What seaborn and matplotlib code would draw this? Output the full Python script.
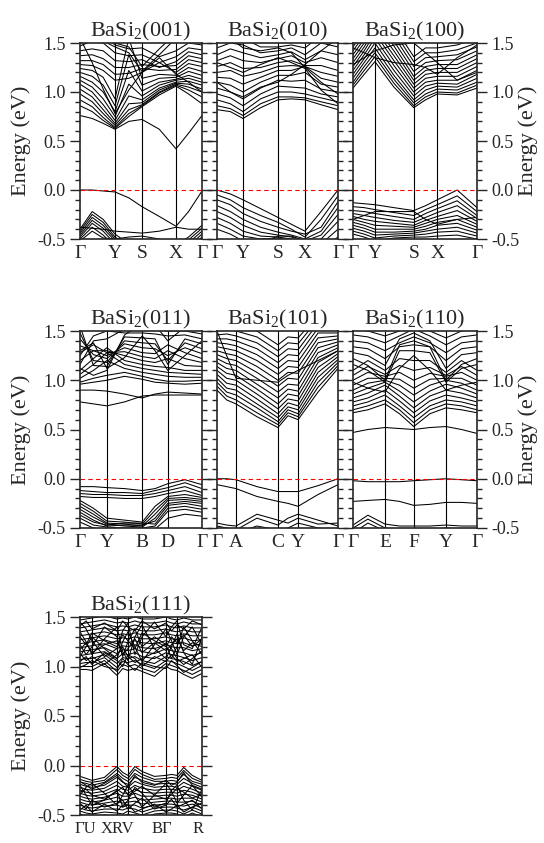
import pandas as pd
import seaborn as sns
import matplotlib.pyplot as plt
from matplotlib.ticker import MultipleLocator, FormatStrFormatter

# ---- BaSi2(001) ----
K_001 = [0, 0.10, 0.19, 0.287, 0.40, 0.508, 0.65, 0.787, 0.89, 1.0]
LINES_001 = [0, 0.287, 0.508, 0.787, 1.0]
LABELS_001 = ['Γ', 'Y', 'S', 'X', 'Γ']
BANDS_001 = [
    [0.00, 0.00, -0.01, -0.02, -0.08, -0.17, -0.27, -0.37, -0.22, -0.01],
    [-0.38, -0.39, -0.40, -0.42, -0.43, -0.44, -0.42, -0.38, -0.40, -0.40],
    [-0.40, -0.22, -0.30, -0.45, -0.55, -0.60, -0.60, -0.56, -0.48, -0.36],
    [-0.42, -0.25, -0.33, -0.48, -0.57, -0.62, -0.62, -0.58, -0.51, -0.39],
    [-0.44, -0.28, -0.36, -0.50, -0.59, -0.64, -0.64, -0.60, -0.54, -0.42],
    [-0.46, -0.31, -0.39, -0.52, -0.61, -0.66, -0.66, -0.62, -0.57, -0.45],
    [-0.48, -0.34, -0.42, -0.55, -0.63, -0.68, -0.68, -0.64, -0.60, -0.48],
    [-0.50, -0.38, -0.46, -0.58, -0.65, -0.70, -0.70, -0.66, -0.62, -0.50],
    [-0.52, -0.42, -0.49, -0.50, -0.48, -0.47, -0.50, -0.55, -0.58, -0.53],
    [0.76, 0.73, 0.68, 0.62, 0.70, 0.72, 0.62, 0.42, 0.58, 0.76],
    [0.86, 0.80, 0.71, 0.63, 0.75, 0.85, 0.97, 1.06, 0.98, 0.88],
    [0.92, 0.85, 0.74, 0.64, 0.78, 0.86, 0.99, 1.07, 1.02, 0.95],
    [0.98, 0.90, 0.78, 0.66, 0.82, 0.87, 1.00, 1.08, 1.05, 1.00],
    [1.03, 0.95, 0.82, 0.68, 0.88, 0.89, 1.02, 1.09, 1.08, 1.03],
    [1.08, 1.00, 0.87, 0.71, 0.96, 0.92, 1.04, 1.10, 1.11, 1.07],
    [1.12, 1.05, 0.93, 0.75, 1.08, 0.96, 1.07, 1.12, 1.14, 1.10],
    [1.16, 1.10, 1.00, 0.80, 1.22, 1.01, 1.10, 1.13, 1.17, 1.13],
    [1.20, 1.16, 1.07, 0.86, 1.38, 1.07, 1.14, 1.15, 1.21, 1.17],
    [1.24, 1.22, 1.15, 0.93, 1.55, 1.14, 1.18, 1.17, 1.25, 1.21],
    [1.28, 1.27, 1.22, 1.12, 1.14, 1.20, 1.30, 1.20, 1.29, 1.26],
    [1.32, 1.32, 1.28, 1.18, 1.19, 1.24, 1.22, 1.23, 1.33, 1.30],
    [1.37, 1.38, 1.34, 1.25, 1.25, 1.28, 1.26, 1.27, 1.37, 1.34],
    [1.42, 1.44, 1.42, 1.32, 1.31, 1.33, 1.25, 1.31, 1.41, 1.38],
    [1.47, 1.52, 1.50, 1.40, 1.37, 1.38, 1.30, 1.36, 1.45, 1.43],
    [1.55, 1.60, 1.58, 1.48, 1.44, 1.45, 1.36, 1.42, 1.50, 1.48],
    [1.55, 1.30, 1.03, 0.78, 1.02, 1.20, 1.35, 1.18, 1.10, 1.00],
    [1.60, 1.56, 1.52, 1.46, 1.40, 1.21, 1.38, 1.55, 1.60, 1.62],
    [1.65, 1.60, 1.56, 1.50, 1.46, 1.26, 1.44, 1.60, 1.65, 1.66],
]

# ---- BaSi2(010) ----
K_010 = [0, 0.11, 0.215, 0.36, 0.504, 0.615, 0.727, 0.86, 1.0]
LINES_010 = [0, 0.215, 0.504, 0.727, 1.0]
LABELS_010 = ['Γ', 'Y', 'S', 'X', 'Γ']
BANDS_010 = [
    [0.00, -0.04, -0.10, -0.19, -0.28, -0.35, -0.42, -0.22, 0.00],
    [-0.05, -0.10, -0.18, -0.26, -0.33, -0.40, -0.48, -0.30, -0.06],
    [-0.10, -0.15, -0.24, -0.32, -0.38, -0.42, -0.45, -0.38, -0.12],
    [-0.16, -0.22, -0.30, -0.38, -0.43, -0.46, -0.50, -0.42, -0.18],
    [-0.22, -0.28, -0.36, -0.43, -0.46, -0.48, -0.52, -0.46, -0.25],
    [-0.28, -0.34, -0.42, -0.47, -0.48, -0.50, -0.55, -0.50, -0.32],
    [-0.34, -0.40, -0.47, -0.50, -0.49, -0.52, -0.58, -0.55, -0.40],
    [-0.40, -0.45, -0.52, -0.54, -0.47, -0.47, -0.52, -0.60, -0.48],
    [0.82, 0.80, 0.73, 0.84, 0.92, 0.93, 0.92, 0.87, 0.82],
    [0.86, 0.83, 0.76, 0.88, 0.95, 0.95, 0.94, 0.90, 0.86],
    [0.92, 0.88, 0.80, 0.93, 1.00, 1.00, 0.98, 0.94, 0.90],
    [0.98, 0.94, 0.86, 0.98, 1.06, 1.05, 1.04, 0.98, 0.95],
    [1.04, 1.00, 0.93, 1.04, 1.12, 1.11, 1.12, 1.03, 1.00],
    [1.10, 1.07, 1.00, 1.10, 1.17, 1.17, 1.20, 1.08, 1.05],
    [1.15, 1.14, 1.08, 1.15, 1.22, 1.22, 1.26, 1.14, 1.10],
    [1.20, 1.22, 1.16, 1.20, 1.26, 1.27, 1.26, 1.20, 1.16],
    [1.26, 1.30, 1.24, 1.25, 1.30, 1.32, 1.27, 1.27, 1.22],
    [1.32, 1.37, 1.32, 1.30, 1.34, 1.37, 1.30, 1.35, 1.30],
    [1.38, 1.44, 1.40, 1.35, 1.38, 1.41, 1.33, 1.42, 1.38],
    [1.45, 1.50, 1.48, 1.40, 1.42, 1.45, 1.38, 1.50, 1.46],
    [1.52, 1.56, 1.55, 1.46, 1.46, 1.48, 1.45, 1.58, 1.54],
    [1.10, 1.00, 0.95, 1.05, 1.10, 1.18, 1.28, 1.42, 1.55],
    [1.60, 1.55, 1.45, 1.42, 1.45, 1.40, 1.25, 1.10, 0.98],
    [1.30, 1.25, 1.20, 1.28, 1.35, 1.30, 1.24, 1.02, 0.88],
]

# ---- BaSi2(100) ----
K_100 = [0, 0.09, 0.177, 0.33, 0.49, 0.585, 0.68, 0.84, 1.0]
LINES_100 = [0, 0.177, 0.49, 0.68, 1.0]
LABELS_100 = ['Γ', 'Y', 'S', 'X', 'Γ']
BANDS_100 = [
    [-0.13, -0.14, -0.15, -0.18, -0.21, -0.16, -0.10, 0.00, -0.18],
    [-0.17, -0.18, -0.20, -0.23, -0.26, -0.20, -0.15, -0.06, -0.22],
    [-0.21, -0.22, -0.24, -0.27, -0.30, -0.24, -0.19, -0.11, -0.26],
    [-0.24, -0.26, -0.28, -0.31, -0.33, -0.28, -0.23, -0.16, -0.29],
    [-0.27, -0.30, -0.32, -0.34, -0.36, -0.31, -0.27, -0.21, -0.32],
    [-0.30, -0.33, -0.36, -0.37, -0.38, -0.34, -0.30, -0.26, -0.35],
    [-0.33, -0.36, -0.40, -0.40, -0.40, -0.37, -0.33, -0.30, -0.38],
    [-0.36, -0.39, -0.43, -0.43, -0.42, -0.40, -0.36, -0.34, -0.41],
    [-0.39, -0.42, -0.46, -0.45, -0.44, -0.42, -0.40, -0.38, -0.44],
    [-0.42, -0.45, -0.49, -0.47, -0.46, -0.45, -0.43, -0.42, -0.47],
    [-0.45, -0.48, -0.52, -0.49, -0.48, -0.48, -0.47, -0.46, -0.50],
    [-0.30, -0.26, -0.22, -0.22, -0.22, -0.30, -0.35, -0.30, -0.28],
    [1.04, 1.18, 1.31, 1.05, 0.84, 0.92, 0.98, 0.97, 1.04],
    [1.07, 1.22, 1.36, 1.09, 0.86, 0.95, 1.00, 0.99, 1.07],
    [1.10, 1.26, 1.40, 1.13, 0.89, 0.98, 1.03, 1.02, 1.10],
    [1.14, 1.30, 1.45, 1.17, 0.92, 1.02, 1.06, 1.05, 1.14],
    [1.18, 1.34, 1.50, 1.22, 0.96, 1.06, 1.09, 1.08, 1.18],
    [1.22, 1.38, 1.55, 1.27, 1.00, 1.10, 1.12, 1.12, 1.22],
    [1.26, 1.42, 1.60, 1.32, 1.04, 1.14, 1.16, 1.16, 1.26],
    [1.30, 1.46, 1.64, 1.37, 1.08, 1.18, 1.20, 1.20, 1.30],
    [1.34, 1.50, 1.68, 1.42, 1.12, 1.22, 1.24, 1.24, 1.34],
    [1.38, 1.54, 1.72, 1.47, 1.16, 1.26, 1.28, 1.28, 1.38],
    [1.42, 1.58, 1.76, 1.52, 1.21, 1.30, 1.32, 1.33, 1.42],
    [1.46, 1.62, 1.80, 1.57, 1.26, 1.35, 1.36, 1.38, 1.46],
    [1.50, 1.66, 1.84, 1.62, 1.31, 1.40, 1.40, 1.43, 1.50],
    [1.55, 1.70, 1.88, 1.67, 1.36, 1.45, 1.45, 1.48, 1.55],
    [1.45, 1.40, 1.35, 1.30, 1.28, 1.25, 1.18, 1.35, 1.48],
    [1.28, 1.35, 1.42, 1.48, 1.50, 1.40, 1.30, 1.12, 1.20],
]

# ---- BaSi2(011) ----
K_011 = [0, 0.11, 0.22, 0.365, 0.51, 0.615, 0.72, 0.86, 1.0]
LINES_011 = [0, 0.22, 0.51, 0.72, 1.0]
LABELS_011 = ['Γ', 'Y', 'B', 'D', 'Γ']
BANDS_011 = [
    [-0.08, -0.08, -0.09, -0.10, -0.12, -0.10, -0.05, -0.01, -0.06],
    [-0.12, -0.13, -0.14, -0.14, -0.15, -0.12, -0.09, -0.04, -0.10],
    [-0.15, -0.16, -0.16, -0.17, -0.17, -0.15, -0.12, -0.08, -0.14],
    [-0.18, -0.19, -0.19, -0.20, -0.20, -0.18, -0.15, -0.12, -0.17],
    [-0.22, -0.30, -0.40, -0.42, -0.44, -0.28, -0.18, -0.16, -0.19],
    [-0.25, -0.33, -0.43, -0.44, -0.46, -0.32, -0.20, -0.19, -0.21],
    [-0.28, -0.36, -0.45, -0.46, -0.48, -0.36, -0.22, -0.21, -0.23],
    [-0.31, -0.39, -0.46, -0.48, -0.49, -0.40, -0.25, -0.23, -0.25],
    [-0.34, -0.42, -0.48, -0.47, -0.47, -0.43, -0.27, -0.25, -0.28],
    [-0.37, -0.44, -0.47, -0.45, -0.45, -0.46, -0.30, -0.28, -0.31],
    [-0.40, -0.47, -0.49, -0.50, -0.50, -0.48, -0.33, -0.31, -0.34],
    [-0.44, -0.50, -0.52, -0.52, -0.53, -0.51, -0.40, -0.36, -0.38],
    [0.78, 0.76, 0.74, 0.78, 0.84, 0.85, 0.85, 0.85, 0.85],
    [0.90, 0.90, 0.89, 0.86, 0.82, 0.86, 0.88, 0.87, 0.86],
    [0.96, 0.98, 1.00, 1.04, 1.01, 0.98, 0.97, 0.96, 0.97],
    [0.98, 1.02, 1.05, 1.08, 1.04, 1.01, 0.99, 0.99, 1.00],
    [1.02, 1.10, 1.20, 1.12, 1.08, 1.06, 1.04, 1.03, 1.03],
    [1.06, 1.16, 1.28, 1.16, 1.12, 1.10, 1.08, 1.07, 1.06],
    [1.10, 1.22, 1.33, 1.20, 1.16, 1.14, 1.13, 1.10, 1.10],
    [1.20, 1.30, 1.30, 1.25, 1.20, 1.18, 1.22, 1.15, 1.14],
    [1.28, 1.36, 1.28, 1.29, 1.24, 1.22, 1.30, 1.22, 1.18],
    [1.35, 1.30, 1.25, 1.33, 1.28, 1.27, 1.36, 1.28, 1.22],
    [1.42, 1.26, 1.22, 1.37, 1.33, 1.32, 1.25, 1.33, 1.27],
    [1.48, 1.20, 1.18, 1.40, 1.38, 1.37, 1.20, 1.38, 1.32],
    [1.55, 1.15, 1.14, 1.44, 1.43, 1.42, 1.16, 1.42, 1.37],
    [1.25, 1.45, 1.50, 1.48, 1.48, 1.47, 1.45, 1.46, 1.42],
    [1.16, 1.40, 1.42, 1.52, 1.53, 1.52, 1.50, 1.50, 1.47],
    [1.12, 1.05, 1.10, 1.46, 1.58, 1.56, 1.40, 1.54, 1.52],
    [1.30, 1.38, 1.12, 1.23, 1.45, 1.30, 1.10, 1.25, 1.40],
]

# ---- BaSi2(101) ----
K_101 = [0, 0.08, 0.157, 0.33, 0.504, 0.587, 0.67, 0.835, 1.0]
LINES_101 = [0, 0.157, 0.504, 0.67, 1.0]
LABELS_101 = ['Γ', 'A', 'C', 'Y', 'Γ']
BANDS_101 = [
    [0.00, 0.00, -0.01, -0.08, -0.13, -0.13, -0.13, -0.07, 0.00],
    [-0.06, -0.08, -0.10, -0.18, -0.23, -0.25, -0.28, -0.16, -0.06],
    [-0.45, -0.47, -0.48, -0.36, -0.42, -0.45, -0.40, -0.46, -0.45],
    [-0.48, -0.50, -0.52, -0.40, -0.47, -0.40, -0.36, -0.42, -0.48],
    [-0.55, -0.55, -0.55, -0.48, -0.52, -0.50, -0.45, -0.50, -0.53],
    [0.90, 0.80, 0.76, 0.63, 0.52, 0.64, 0.60, 0.88, 1.12],
    [0.94, 0.84, 0.80, 0.67, 0.55, 0.67, 0.63, 0.93, 1.15],
    [0.98, 0.88, 0.85, 0.72, 0.58, 0.70, 0.66, 0.98, 1.18],
    [1.02, 0.92, 0.90, 0.76, 0.62, 0.73, 0.70, 1.03, 1.21],
    [1.06, 0.97, 0.95, 0.81, 0.66, 0.77, 0.74, 1.08, 1.24],
    [1.10, 1.02, 1.00, 0.86, 0.71, 0.81, 0.79, 1.13, 1.27],
    [1.14, 1.07, 1.05, 0.91, 0.76, 0.86, 0.84, 1.18, 1.30],
    [1.18, 1.12, 1.10, 0.96, 0.82, 0.91, 0.89, 1.23, 1.33],
    [1.22, 1.17, 1.15, 1.02, 0.88, 0.96, 0.95, 1.28, 1.36],
    [1.26, 1.22, 1.20, 1.08, 0.94, 1.02, 1.01, 1.33, 1.39],
    [1.30, 1.27, 1.25, 1.14, 1.00, 1.08, 1.07, 1.38, 1.42],
    [1.34, 1.32, 1.30, 1.20, 1.06, 1.14, 1.13, 1.43, 1.45],
    [1.38, 1.37, 1.35, 1.26, 1.12, 1.20, 1.19, 1.48, 1.48],
    [1.42, 1.42, 1.40, 1.32, 1.18, 1.26, 1.25, 1.53, 1.51],
    [1.46, 1.47, 1.45, 1.38, 1.24, 1.32, 1.31, 1.58, 1.54],
    [1.50, 1.52, 1.50, 1.44, 1.30, 1.38, 1.37, 1.62, 1.58],
    [1.55, 1.57, 1.55, 1.50, 1.36, 1.44, 1.43, 1.66, 1.62],
    [1.50, 1.25, 1.02, 1.00, 0.98, 1.05, 1.10, 1.20, 1.30],
]

# ---- BaSi2(110) ----
K_110 = [0, 0.12, 0.258, 0.375, 0.49, 0.62, 0.75, 0.875, 1.0]
LINES_110 = [0, 0.258, 0.49, 0.75, 1.0]
LABELS_110 = ['Γ', 'E', 'F', 'Y', 'Γ']
BANDS_110 = [
    [-0.02, -0.03, -0.03, -0.03, -0.02, -0.01, 0.00, -0.01, -0.02],
    [-0.23, -0.22, -0.21, -0.23, -0.27, -0.26, -0.24, -0.24, -0.25],
    [-0.47, -0.37, -0.46, -0.48, -0.48, -0.48, -0.47, -0.48, -0.48],
    [-0.50, -0.41, -0.50, -0.52, -0.52, -0.52, -0.50, -0.51, -0.52],
    [-0.55, -0.45, -0.53, -0.55, -0.55, -0.55, -0.55, -0.55, -0.55],
    [0.47, 0.50, 0.52, 0.51, 0.50, 0.52, 0.53, 0.50, 0.46],
    [0.67, 0.70, 0.76, 0.66, 0.53, 0.66, 0.72, 0.70, 0.67],
    [0.70, 0.74, 0.80, 0.70, 0.57, 0.70, 0.76, 0.74, 0.70],
    [0.74, 0.78, 0.85, 0.74, 0.62, 0.74, 0.80, 0.78, 0.74],
    [0.78, 0.82, 0.90, 0.79, 0.67, 0.79, 0.85, 0.82, 0.78],
    [0.82, 0.87, 0.95, 0.84, 0.72, 0.84, 0.90, 0.87, 0.82],
    [0.86, 0.92, 0.98, 0.89, 0.78, 0.89, 0.96, 0.92, 0.86],
    [0.90, 0.97, 1.00, 0.95, 0.85, 0.95, 1.00, 0.97, 0.90],
    [0.95, 1.02, 1.02, 1.01, 0.92, 1.01, 1.02, 1.02, 0.95],
    [1.00, 1.08, 1.04, 1.08, 1.00, 1.07, 1.04, 1.08, 1.00],
    [1.05, 1.14, 1.06, 1.15, 1.10, 1.13, 1.05, 1.14, 1.05],
    [1.10, 1.20, 1.10, 1.22, 1.20, 1.20, 1.08, 1.20, 1.10],
    [1.16, 1.10, 0.98, 1.30, 1.30, 1.28, 0.98, 1.12, 1.16],
    [1.22, 1.15, 1.00, 1.36, 1.40, 1.34, 1.00, 1.16, 1.22],
    [1.28, 1.25, 1.15, 1.42, 1.48, 1.40, 1.12, 1.26, 1.28],
    [1.34, 1.32, 1.22, 1.34, 1.36, 1.34, 1.20, 1.32, 1.34],
    [1.40, 1.38, 1.30, 1.38, 1.44, 1.38, 1.28, 1.38, 1.40],
    [1.46, 1.44, 1.38, 1.45, 1.52, 1.45, 1.36, 1.44, 1.46],
    [1.52, 1.50, 1.45, 1.50, 1.58, 1.50, 1.43, 1.50, 1.52],
    [0.98, 0.92, 0.88, 1.12, 1.25, 1.10, 0.90, 0.95, 0.98],
]

# ---- BaSi2(111) ----
K_111 = [0, 0.05, 0.098, 0.20, 0.303, 0.35, 0.393, 0.45, 0.508, 0.61,
         0.705, 0.75, 0.795, 0.85, 0.92, 1.0]
LINES_111 = [0, 0.098, 0.303, 0.393, 0.508, 0.705, 0.795, 1.0]
# the labels of this path sit in groups under the lines, as in the source
LABEL_POS_111 = [0.045, 0.31, 0.67, 0.967]
LABELS_111 = ['ΓU', 'XRV', 'BΓ', 'R']
BANDS_111 = [
    [-0.11, -0.13, -0.15, -0.12, -0.01, -0.07, -0.10, -0.01, -0.06, -0.11, -0.10, -0.09, -0.10, -0.02, -0.10, -0.15],
    [-0.14, -0.16, -0.17, -0.15, -0.04, -0.10, -0.13, -0.04, -0.09, -0.14, -0.13, -0.12, -0.13, -0.05, -0.13, -0.17],
    [-0.17, -0.18, -0.20, -0.17, -0.08, -0.13, -0.16, -0.08, -0.12, -0.16, -0.16, -0.15, -0.16, -0.09, -0.16, -0.19],
    [-0.19, -0.21, -0.22, -0.20, -0.12, -0.17, -0.19, -0.12, -0.15, -0.19, -0.18, -0.18, -0.19, -0.13, -0.18, -0.22],
    [-0.22, -0.24, -0.25, -0.23, -0.16, -0.21, -0.22, -0.16, -0.19, -0.22, -0.21, -0.21, -0.22, -0.17, -0.21, -0.25],
    [-0.25, -0.27, -0.28, -0.26, -0.20, -0.24, -0.25, -0.20, -0.23, -0.25, -0.24, -0.24, -0.25, -0.21, -0.24, -0.28],
    [-0.28, -0.30, -0.31, -0.29, -0.24, -0.28, -0.28, -0.24, -0.27, -0.28, -0.27, -0.27, -0.28, -0.25, -0.27, -0.31],
    [-0.31, -0.33, -0.34, -0.32, -0.28, -0.31, -0.31, -0.28, -0.31, -0.31, -0.30, -0.30, -0.31, -0.29, -0.30, -0.34],
    [-0.34, -0.36, -0.37, -0.35, -0.32, -0.35, -0.34, -0.32, -0.35, -0.34, -0.33, -0.33, -0.34, -0.33, -0.33, -0.37],
    [-0.37, -0.39, -0.40, -0.38, -0.36, -0.38, -0.37, -0.36, -0.39, -0.37, -0.36, -0.36, -0.37, -0.37, -0.36, -0.40],
    [-0.40, -0.42, -0.43, -0.41, -0.40, -0.42, -0.40, -0.40, -0.43, -0.40, -0.39, -0.39, -0.40, -0.41, -0.39, -0.43],
    [-0.43, -0.45, -0.46, -0.44, -0.44, -0.45, -0.43, -0.44, -0.47, -0.43, -0.42, -0.42, -0.43, -0.45, -0.42, -0.46],
    [-0.46, -0.48, -0.49, -0.47, -0.48, -0.49, -0.46, -0.48, -0.50, -0.46, -0.45, -0.45, -0.46, -0.49, -0.45, -0.49],
    [-0.49, -0.51, -0.52, -0.50, -0.52, -0.52, -0.49, -0.52, -0.54, -0.49, -0.48, -0.48, -0.49, -0.52, -0.48, -0.52],
    [-0.30, -0.22, -0.18, -0.28, -0.40, -0.30, -0.20, -0.30, -0.42, -0.30, -0.18, -0.26, -0.38, -0.30, -0.20, -0.32],
    [-0.20, -0.30, -0.40, -0.35, -0.25, -0.42, -0.35, -0.22, -0.28, -0.42, -0.38, -0.25, -0.20, -0.35, -0.45, -0.24],
    [-0.16, -0.20, -0.24, -0.18, -0.10, -0.16, -0.22, -0.10, -0.17, -0.20, -0.15, -0.20, -0.17, -0.07, -0.20, -0.24],
    [-0.27, -0.24, -0.30, -0.34, -0.26, -0.22, -0.30, -0.26, -0.21, -0.30, -0.34, -0.29, -0.23, -0.27, -0.33, -0.29],
    [-0.38, -0.44, -0.35, -0.42, -0.38, -0.35, -0.44, -0.38, -0.33, -0.44, -0.40, -0.34, -0.42, -0.39, -0.35, -0.44],
    [-0.45, -0.40, -0.47, -0.39, -0.46, -0.40, -0.39, -0.47, -0.44, -0.39, -0.47, -0.44, -0.40, -0.47, -0.42, -0.38],
    [0.97, 0.97, 0.96, 1.03, 0.91, 0.98, 0.96, 0.98, 0.95, 0.90, 1.00, 0.97, 0.96, 0.92, 0.88, 0.93],
    [1.00, 1.00, 1.00, 1.06, 0.95, 1.02, 1.00, 1.02, 0.98, 0.94, 1.03, 1.01, 0.99, 0.96, 0.92, 0.97],
    [1.03, 1.04, 1.04, 1.09, 0.99, 1.05, 1.04, 1.06, 1.02, 0.98, 1.06, 1.05, 1.03, 1.00, 0.96, 1.01],
    [1.07, 1.08, 1.08, 1.12, 1.03, 1.09, 1.08, 1.10, 1.06, 1.03, 1.10, 1.08, 1.07, 1.05, 1.01, 1.05],
    [1.11, 1.12, 1.13, 1.15, 1.08, 1.13, 1.12, 1.14, 1.10, 1.08, 1.14, 1.12, 1.11, 1.09, 1.06, 1.09],
    [1.15, 1.16, 1.17, 1.19, 1.13, 1.17, 1.16, 1.18, 1.15, 1.13, 1.18, 1.16, 1.15, 1.14, 1.11, 1.14],
    [1.19, 1.20, 1.21, 1.23, 1.18, 1.21, 1.20, 1.22, 1.19, 1.18, 1.22, 1.20, 1.19, 1.19, 1.16, 1.18],
    [1.23, 1.24, 1.25, 1.27, 1.23, 1.25, 1.24, 1.26, 1.24, 1.23, 1.26, 1.24, 1.23, 1.24, 1.21, 1.23],
    [1.27, 1.28, 1.29, 1.31, 1.28, 1.29, 1.28, 1.30, 1.28, 1.28, 1.30, 1.28, 1.27, 1.29, 1.26, 1.27],
    [1.31, 1.32, 1.33, 1.35, 1.32, 1.33, 1.32, 1.34, 1.32, 1.32, 1.34, 1.32, 1.31, 1.33, 1.31, 1.31],
    [1.35, 1.36, 1.37, 1.39, 1.36, 1.37, 1.36, 1.38, 1.36, 1.36, 1.38, 1.36, 1.35, 1.37, 1.35, 1.35],
    [1.39, 1.40, 1.41, 1.43, 1.40, 1.41, 1.40, 1.42, 1.40, 1.40, 1.42, 1.40, 1.39, 1.41, 1.39, 1.39],
    [1.43, 1.44, 1.45, 1.47, 1.44, 1.45, 1.44, 1.46, 1.44, 1.44, 1.46, 1.44, 1.43, 1.45, 1.43, 1.43],
    [1.47, 1.48, 1.49, 1.51, 1.48, 1.49, 1.48, 1.50, 1.48, 1.48, 1.50, 1.48, 1.47, 1.49, 1.47, 1.47],
    [1.10, 1.20, 1.30, 1.18, 1.08, 1.25, 1.35, 1.20, 1.05, 1.22, 1.38, 1.26, 1.12, 1.30, 1.40, 1.22],
    [1.35, 1.25, 1.12, 1.28, 1.40, 1.15, 1.06, 1.30, 1.42, 1.18, 1.08, 1.20, 1.33, 1.14, 1.02, 1.30],
    [1.22, 1.12, 1.20, 1.40, 1.30, 1.10, 1.25, 1.38, 1.20, 1.30, 1.22, 1.08, 1.20, 1.40, 1.26, 1.12],
    [1.45, 1.38, 1.26, 1.10, 1.18, 1.36, 1.44, 1.12, 1.30, 1.45, 1.30, 1.40, 1.46, 1.22, 1.18, 1.40],
    [0.99, 1.02, 1.06, 1.00, 0.97, 1.08, 1.02, 0.96, 1.04, 1.00, 0.98, 1.06, 1.01, 0.94, 0.99, 1.05],
    [1.05, 1.10, 1.02, 1.14, 1.06, 1.00, 1.12, 1.08, 1.00, 1.10, 1.05, 1.12, 1.05, 1.08, 1.12, 0.99],
    [1.17, 1.24, 1.14, 1.22, 1.26, 1.12, 1.18, 1.28, 1.14, 1.24, 1.16, 1.22, 1.28, 1.16, 1.24, 1.20],
    [1.30, 1.22, 1.34, 1.26, 1.20, 1.32, 1.26, 1.18, 1.34, 1.26, 1.20, 1.30, 1.24, 1.32, 1.20, 1.28],
    [1.41, 1.46, 1.38, 1.44, 1.36, 1.46, 1.40, 1.36, 1.46, 1.38, 1.44, 1.36, 1.42, 1.38, 1.46, 1.42],
    [1.13, 1.06, 1.10, 1.02, 1.12, 1.20, 1.10, 1.04, 1.08, 1.14, 1.24, 1.18, 1.08, 1.02, 1.08, 1.16],
]

W, H = 544, 843


def band_frame(k, bands):
    rows = []
    for i, band in enumerate(bands):
        assert len(band) == len(k)
        for kk, e in zip(k, band):
            rows.append((i, kk, e))
    return pd.DataFrame(rows, columns=['band', 'k', 'E'])


def draw_panel(rect, title, k, lines, label_pos, labels, bands, side, xsize=14):
    x0, y0, w, h = rect
    ax = fig.add_axes([x0 / W, 1 - (y0 + h) / H, w / W, h / H])
    df = band_frame(k, bands)
    sns.lineplot(data=df, x='k', y='E', units='band', estimator=None,
                 color='black', lw=0.75, sort=False, legend=False, ax=ax)
    for t in lines[1:-1]:
        ax.axvline(t, color='black', lw=0.8)
    ax.axhline(0, color='red', lw=0.8, ls=(0, (4, 3)))
    ax.set_xlim(0, 1)
    ax.set_ylim(-0.5, 1.5)
    ax.set_xticks(label_pos, labels)
    ax.tick_params(axis='x', length=0, labelsize=xsize, pad=4)
    ax.yaxis.set_major_locator(MultipleLocator(0.5))
    ax.yaxis.set_minor_locator(MultipleLocator(0.1))
    ax.yaxis.set_major_formatter(FormatStrFormatter('%.1f'))
    ax.tick_params(axis='y', which='both', direction='out', left=True, right=True,
                   labelleft=(side == 'left'), labelright=(side == 'right'),
                   labelsize=13, width=1.0)
    ax.tick_params(axis='y', which='major', length=7)
    ax.tick_params(axis='y', which='minor', length=3.5)
    ax.set_xlabel('')
    ax.set_ylabel('')
    for s in ax.spines.values():
        s.set_linewidth(1.2)
    ax.set_title(title, fontsize=16, pad=4)
    if side == 'left':
        ax.set_ylabel('Energy (eV)', fontsize=16)
        ax.yaxis.set_label_coords(-0.40, 0.5)
    elif side == 'right':
        ax.yaxis.set_label_position('right')
        ax.set_ylabel('Energy (eV)', fontsize=16, rotation=90)
        ax.yaxis.set_label_coords(1.33, 0.5)
    return ax


sns.set_style('ticks')
plt.rcParams['font.family'] = ['Liberation Serif', 'DejaVu Serif']
plt.rcParams['axes.unicode_minus'] = False

fig = plt.figure(figsize=(W / 100, H / 100), dpi=100)

sub = r'$_\mathregular{2}$'
draw_panel((80, 43, 122, 196), f'BaSi{sub}(001)', K_001, LINES_001, LINES_001, LABELS_001, BANDS_001, 'left')
draw_panel((217, 43, 121, 196), f'BaSi{sub}(010)', K_010, LINES_010, LINES_010, LABELS_010, BANDS_010, 'mid')
draw_panel((353, 43, 124, 196), f'BaSi{sub}(100)', K_100, LINES_100, LINES_100, LABELS_100, BANDS_100, 'right')
draw_panel((80, 331, 122, 197), f'BaSi{sub}(011)', K_011, LINES_011, LINES_011, LABELS_011, BANDS_011, 'left')
draw_panel((217, 331, 121, 197), f'BaSi{sub}(101)', K_101, LINES_101, LINES_101, LABELS_101, BANDS_101, 'mid')
draw_panel((353, 331, 124, 197), f'BaSi{sub}(110)', K_110, LINES_110, LINES_110, LABELS_110, BANDS_110, 'right')
draw_panel((80, 617, 122, 198), f'BaSi{sub}(111)', K_111, LINES_111, LABEL_POS_111, LABELS_111, BANDS_111, 'left', xsize=12)

fig.savefig('out.png', dpi=100)
